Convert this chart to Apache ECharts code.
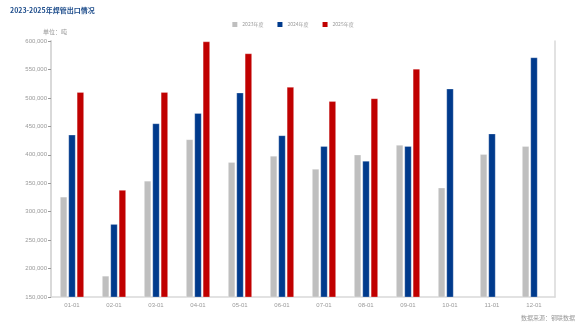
<!DOCTYPE html>
<html>
<head>
<meta charset="utf-8">
<script src="https://cdn.jsdelivr.net/npm/echarts@6/dist/echarts.min.js"></script>
<style>
  html, body { margin: 0; padding: 0; background: #fff; }
  #chart { width: 586px; height: 329px; }
</style>
</head>
<body>
<div id="chart"></div>
<script>
const months = ["01-01", "02-01", "03-01", "04-01", "05-01", "06-01", "07-01", "08-01", "09-01", "10-01", "11-01", "12-01"];
const seriesNames = ["2023年度", "2024年度", "2025年度"];
const y2023 = [326000, 187000, 354000, 427000, 387000, 398000, 375000, 400000, 417000, 342000, 401000, 415000];
const y2024 = [435000, 278000, 455000, 473000, 509000, 434000, 415000, 389000, 415000, 516000, 437000, 571000];
const y2025 = [510000, 338000, 510000, 599000, 578000, 519000, 494000, 499000, 551000, null, null, null];
const colors = ["#bfbfbf", "#003a8c", "#c00000"];

var myChart = echarts.init(document.getElementById("chart"), null, { renderer: "canvas" });

const axisGray = "#d9d9d9";
const labelGray = "#999999";

const option = {
  animation: false,
  color: colors,
  title: [
    {
      text: "2023-2025年焊管出口情况",
      left: 5,
      top: 2,
      textStyle: { fontSize: 7, fontWeight: "bold", color: "#1f4e8c", fontFamily: "Noto Sans CJK SC" },
    },
    {
      text: "数据来源：钢联数据",
      right: 6,
      bottom: 3,
      textStyle: { fontSize: 6, fontWeight: "normal", color: labelGray, fontFamily: "Noto Sans CJK SC" },
    },
  ],
  legend: {
    top: 17,
    left: "center",
    itemWidth: 5,
    itemHeight: 5,
    itemGap: 14,
    itemStyle: { borderWidth: 0 },
    icon: "rect",
    textStyle: { fontSize: 5, color: labelGray, fontFamily: "Noto Sans CJK SC" },
    data: seriesNames,
  },
  grid: { left: 51, right: 31, top: 41, bottom: 32, containLabel: false },
  xAxis: {
    type: "category",
    data: months,
    axisLine: { lineStyle: { color: axisGray, width: 1.5 } },
    axisTick: { lineStyle: { color: "#999" }, length: 3 },
    axisLabel: { fontSize: 6, color: labelGray, margin: 5 },
  },
  yAxis: [
    {
      type: "value",
      min: 150000,
      max: 600000,
      interval: 50000,
      name: "单位：吨",
      nameGap: 6,
      nameTextStyle: { fontSize: 6, color: labelGray, align: "center", fontFamily: "Noto Sans CJK SC", padding: [0, 0, 0, 8] },
      axisLine: { show: true, lineStyle: { color: axisGray, width: 2 } },
      axisTick: { show: true, length: 3, lineStyle: { color: "#999" } },
      splitLine: { show: false },
      axisLabel: {
        fontSize: 6,
        color: labelGray,
        margin: 4,
        formatter: (v) => v.toLocaleString("en-US"),
      },
    },
    {
      type: "value",
      min: 150000,
      max: 600000,
      interval: 50000,
      position: "right",
      axisLine: { show: true, lineStyle: { color: axisGray, width: 1.5 } },
      axisTick: { show: false },
      axisLabel: { show: false },
      splitLine: { show: false },
    },
  ],
  series: [y2023, y2024, y2025].map((d, i) => ({
    name: seriesNames[i],
    type: "bar",
    data: d,
    barWidth: 7,
    barGap: "20%",
    itemStyle: { color: colors[i], borderColor: "rgba(255,255,255,0.5)", borderWidth: 0.5 },
  })),
};

option && myChart.setOption(option);
</script>
</body>
</html>
